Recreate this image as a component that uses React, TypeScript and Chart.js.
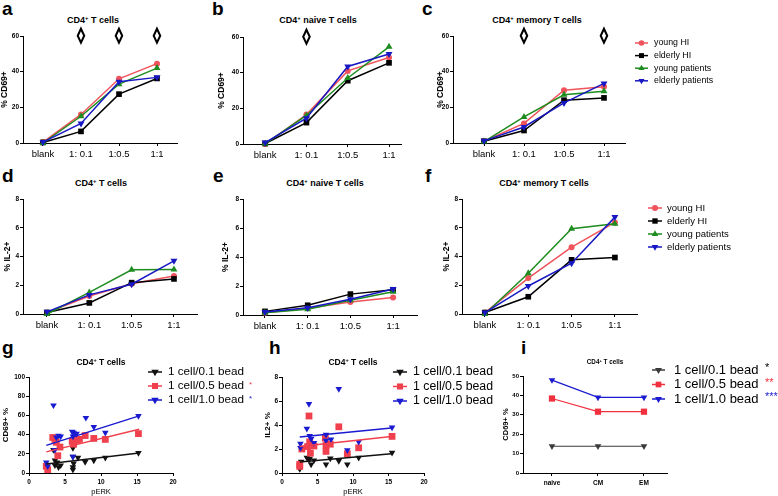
import React, { useEffect, useRef } from 'react';
import { Chart, registerables } from 'chart.js';

Chart.register(...registerables);

const FONT = '"Liberation Sans", Arial, Helvetica, sans-serif';
Chart.defaults.font.family = FONT;
Chart.defaults.color = '#000';

// ---------------- data ----------------
const groupLabels = ['young HI', 'elderly HI', 'young patients', 'elderly patients'];
const doseLabels = ['blank', '1: 0.1', '1:0.5', '1:1'];

// a: % CD69+ CD4+ T cells
const aYoungHI = [0.5, 16, 36, 44.5];
const aElderlyHI = [0.3, 6.5, 27.4, 36.2];
const aYoungPatients = [0, 15, 33, 42];
const aElderlyPatients = [0.5, 11, 34.3, 36.8];
const aDiamonds = [1, 2, 3];

// b: % CD69+ CD4+ naive T cells
const bYoungHI = [0, 16.5, 41, 48.5];
const bElderlyHI = [0.3, 12, 35.5, 45.5];
const bYoungPatients = [0.2, 16, 37, 54.5];
const bElderlyPatients = [0.8, 14.5, 43.5, 50.5];
const bDiamonds = [1];

// c: % CD69+ CD4+ memory T cells
const cYoungHI = [1, 11, 29.6, 31.5];
const cElderlyHI = [1, 7, 24, 25.3];
const cYoungPatients = [0.8, 14.6, 27, 29];
const cElderlyPatients = [1.2, 9, 22.5, 33.4];
const cDiamonds = [1, 3];

// d: % IL-2+ CD4+ T cells
const dYoungHI = [0.1, 1.25, 2.1, 2.65];
const dElderlyHI = [0.1, 0.77, 2.18, 2.44];
const dYoungPatients = [0, 1.5, 3.07, 3.1];
const dElderlyPatients = [0.15, 1.33, 2.07, 3.7];

// e: % IL-2+ CD4+ naive T cells
const eYoungHI = [0.15, 0.46, 0.9, 1.2];
const eElderlyHI = [0.25, 0.67, 1.44, 1.74];
const eYoungPatients = [0.15, 0.4, 1.02, 1.6];
const eElderlyPatients = [0.2, 0.5, 1.09, 1.79];

// f: % IL-2+ CD4+ memory T cells
const fYoungHI = [0.1, 2.5, 4.65, 6.37];
const fElderlyHI = [0.1, 1.2, 3.77, 3.93];
const fYoungPatients = [0, 2.84, 5.93, 6.28];
const fElderlyPatients = [0.1, 1.95, 3.53, 6.74];

// g: CD69+ % vs pERK
const beadLabels = ['1 cell/0.1 bead', '1 cell/0.5 bead', '1 cell/1.0 bead'];
const gStars = ['', '*', '*'];
const g01X = [2.6, 3.4, 3.6, 3.6, 3.9, 4.1, 4.4, 6.1, 6.1, 6.1, 6.1, 6.2, 6.8, 7.8, 9.0, 10.6, 15.2];
const g01Y = [3, 24, 13, 8, 11, 6, 8, 26, 17, 6, 3.5, 10, 16, 11.5, 13, 16, 21];
const g05X = [2.4, 2.6, 3.3, 3.6, 3.8, 4.0, 4.3, 6.0, 6.2, 6.3, 6.6, 7.0, 7.8, 9.0, 10.6, 15.2];
const g05Y = [7, 3.5, 37, 35, 32, 18, 27, 33, 30, 36, 34, 35, 39, 36, 35, 41];
const g10X = [2.4, 2.6, 3.4, 3.6, 3.8, 4.1, 4.4, 6.0, 6.1, 6.1, 6.2, 6.6, 7.9, 9.0, 10.6, 15.2];
const g10Y = [11, 7, 70.5, 24, 37, 39, 38, 43, 38, 17, 42, 41, 57.5, 48, 42, 59.5];
const gTrendX = [2.4, 15.3];
const gTrend01Y = [9.3, 20.8];
const gTrend05Y = [22, 45.5];
const gTrend10Y = [28.8, 59.5];

// h: IL2+ % vs pERK
const h01X = [2.5, 2.7, 3.5, 3.8, 3.9, 4.1, 4.5, 6.2, 6.8, 8.0, 9.2, 10.8, 15.5];
const h01Y = [0.33, 0.95, 1.28, 1.1, 1.2, 0.72, 1.06, 0.72, 1.22, 1.0, 0.72, 1.28, 1.7];
const h05X = [2.5, 2.5, 2.8, 3.6, 3.8, 3.9, 4.0, 4.5, 6.1, 6.2, 6.2, 6.8, 8.0, 9.2, 10.8, 15.5];
const h05Y = [0.72, 0.55, 2.0, 2.2, 4.75, 2.6, 1.65, 2.25, 2.9, 2.3, 1.8, 2.4, 3.85, 1.6, 2.1, 3.05];
const h10X = [2.6, 2.6, 3.5, 3.8, 3.9, 4.1, 4.5, 6.2, 6.2, 6.9, 8.0, 9.2, 10.8, 15.5];
const h10Y = [2.45, 2.1, 3.7, 5.75, 3.1, 2.85, 2.5, 3.2, 2.7, 2.8, 7.0, 1.9, 2.6, 3.8];
const hTrendX = [2.5, 15.4];
const hTrend01Y = [0.92, 1.6];
const hTrend05Y = [2.2, 3.05];
const hTrend10Y = [3.0, 3.75];

// i: CD69+ % by subset
const subsetLabels = ['naive', 'CM', 'EM'];
const iStars = ['*', '**', '***'];
const i01 = [13.8, 13.8, 13.8];
const i05 = [38.4, 31.6, 31.6];
const i10 = [47.9, 39, 39];

// ---------------- styles ----------------
type Marker = 'circle' | 'rect' | 'triangle' | 'triangleDown';
const RED = '#f0535b';
const GREEN = '#1e8c1e';
const BLUE = '#1717c4';
const groupColors = [RED, '#000000', GREEN, BLUE];
const groupMarkers: Marker[] = ['circle', 'rect', 'triangle', 'triangleDown'];
const beadColors = ['#111111', '#f0404e', '#1a1ad0'];
const beadColorsI = ['#3a3a3a', '#f0303e', '#1a1ad0'];
const beadMarkers: Marker[] = ['triangleDown', 'rect', 'triangleDown'];

type Frame = { cl: number; ct: number; cr: number; cb: number; ax: number; at: number; ar: number; ab: number };
type Lay = { left: number; top: number; width: number; height: number; yw: number; pt: number; pr: number; xh: number };

function lay(f: Frame): Lay {
  return {
    left: f.cl, top: f.ct, width: f.cr - f.cl, height: f.cb - f.ct,
    yw: f.ax - f.cl, pt: f.at - f.ct, pr: f.cr - f.ar, xh: f.cb - f.ab,
  };
}

function drawMarker(ctx: CanvasRenderingContext2D, m: Marker, x: number, y: number, r: number, color: string) {
  ctx.fillStyle = color;
  ctx.beginPath();
  if (m === 'circle') {
    ctx.arc(x, y, r, 0, Math.PI * 2);
  } else if (m === 'rect') {
    const s = r * Math.SQRT1_2;
    ctx.rect(x - s, y - s, 2 * s, 2 * s);
  } else {
    const sgn = m === 'triangle' ? -1 : 1;
    for (let k = 0; k < 3; k++) {
      const a = (k * 2 * Math.PI) / 3;
      const px = x + Math.sin(a) * r;
      const py = y + sgn * Math.cos(a) * r;
      if (k === 0) ctx.moveTo(px, py); else ctx.lineTo(px, py);
    }
    ctx.closePath();
  }
  ctx.fill();
}

function ptStyle(m: Marker, s: number) {
  const r = (m === 'circle' ? 3 : 4) * s;
  return {
    pointStyle: m === 'circle' ? 'circle' : m === 'rect' ? 'rect' : 'triangle',
    pointRotation: m === 'triangleDown' ? 180 : 0,
    pointRadius: r,
    pointHoverRadius: r,
  };
}

const axisBorder = { display: true, color: '#000', width: 1 };
const tickGrid = { display: true, drawOnChartArea: false, drawTicks: true, tickLength: 3, color: '#000', lineWidth: 1 };

function catScale(labels: string[], min: number, max: number, size: number, bold: boolean, xh: number) {
  return {
    type: 'linear', min, max,
    afterBuildTicks: (s: any) => { s.ticks = labels.map((_, i) => ({ value: i })); },
    afterFit: (s: any) => { s.height = xh; },
    ticks: {
      callback: (v: any) => labels[Math.round(Number(v))] ?? '',
      font: { size, weight: bold ? 'bold' : 'normal' }, color: '#000', padding: 3,
      autoSkip: false, maxRotation: 0, minRotation: 0,
    },
    grid: tickGrid, border: axisBorder,
  };
}

function numScale(axis: 'x' | 'y', min: number, max: number, step: number, size: number, fit: number,
  title?: string, titleSize = 8, titleBold = true) {
  return {
    type: 'linear', min, max,
    ticks: { stepSize: step, font: { size, weight: 'bold' }, padding: axis === 'y' ? 1 : 2, color: '#000', maxRotation: 0, autoSkip: false },
    grid: tickGrid, border: axisBorder,
    title: title
      ? { display: true, text: title, font: { size: titleSize, weight: titleBold ? 'bold' : 'normal' }, padding: 0, color: '#000' }
      : { display: false },
    afterFit: (s: any) => { if (axis === 'y') s.width = fit; else s.height = fit; },
  };
}

function baseOptions(L: Lay, scales: any) {
  return {
    responsive: false, maintainAspectRatio: false, animation: false, events: [],
    layout: { padding: { left: 0, top: L.pt, right: L.pr, bottom: 0 } },
    plugins: { legend: { display: false }, tooltip: { enabled: false }, title: { display: false } },
    scales,
  };
}

type LegendCfg = {
  x: number; y: number; dy: number; len: number; gap: number; size: number; r: number;
  labels: string[]; colors: string[]; markers: Marker[];
  stars?: string[]; starColors?: string[]; starX?: number; starSize?: number; starDy?: number;
};

function legendPlugin(L: Lay, cfg: LegendCfg) {
  return {
    id: 'prismLegend',
    afterDraw(chart: any) {
      const ctx: CanvasRenderingContext2D = chart.ctx;
      ctx.save();
      cfg.labels.forEach((label, k) => {
        const x = cfg.x - L.left;
        const y = cfg.y - L.top + k * cfg.dy;
        ctx.strokeStyle = cfg.colors[k];
        ctx.lineWidth = 1.5;
        ctx.beginPath();
        ctx.moveTo(x, y);
        ctx.lineTo(x + cfg.len, y);
        ctx.stroke();
        drawMarker(ctx, cfg.markers[k], x + cfg.len / 2, y, cfg.r * (cfg.markers[k] === 'circle' ? 0.8 : 1), cfg.colors[k]);
        ctx.font = `${cfg.size}px ${FONT}`;
        ctx.fillStyle = '#000';
        ctx.textAlign = 'left';
        ctx.textBaseline = 'middle';
        ctx.fillText(label, x + cfg.len + cfg.gap, y);
        if (cfg.stars && cfg.stars[k]) {
          ctx.font = `${cfg.starSize ?? cfg.size}px ${FONT}`;
          ctx.fillStyle = cfg.starColors ? cfg.starColors[k] : '#000';
          ctx.fillText(cfg.stars[k], (cfg.starX ?? 0) - L.left, y - (cfg.starDy ?? 0));
        }
      });
      ctx.restore();
    },
  };
}

function diamondPlugin(indices: number[]) {
  return {
    id: 'diamonds',
    afterDraw(chart: any) {
      const ctx: CanvasRenderingContext2D = chart.ctx;
      const xs = chart.scales.x;
      ctx.save();
      ctx.fillStyle = '#000';
      ctx.strokeStyle = '#000';
      ctx.lineWidth = 1.3;
      ctx.lineJoin = 'miter';
      ctx.font = 'bold 15px "DejaVu Sans", sans-serif';
      ctx.textAlign = 'center';
      ctx.textBaseline = 'middle';
      indices.forEach((i) => {
        const px = xs.getPixelForValue(i);
        const py = chart.chartArea.top;
        ctx.fillText('\u25CA', px, py);
        ctx.strokeText('\u25CA', px, py);
      });
      ctx.restore();
    },
  };
}

function doseConfig(L: Lay, series: number[][], xmin: number, xmax: number, ymax: number, ystep: number,
  ytitle: string, plugins: any[]) {
  return {
    type: 'line',
    data: {
      datasets: series.map((vals, k) => ({
        label: groupLabels[k],
        data: vals.map((v, i) => ({ x: i, y: v })),
        borderColor: groupColors[k],
        backgroundColor: groupColors[k],
        pointBackgroundColor: groupColors[k],
        pointBorderColor: groupColors[k],
        pointBorderWidth: 0,
        borderWidth: 1.5,
        tension: 0,
        clip: false,
        order: -k,
        ...ptStyle(groupMarkers[k], 1),
      })),
    },
    options: baseOptions(L, {
      x: catScale(doseLabels, xmin, xmax, 9.5, false, L.xh),
      y: numScale('y', 0, ymax, ystep, 6.5, L.yw, ytitle, 8.5),
    }),
    plugins,
  };
}

function scatterConfig(L: Lay, xs: number[][], ys: number[][], trendX: number[], trends: number[][],
  ymax: number, ystep: number, ytitle: string, legend: LegendCfg) {
  const pts = xs.map((xArr, k) => ({
    type: 'scatter',
    label: beadLabels[k],
    data: xArr.map((x, i) => ({ x, y: ys[k][i] })),
    backgroundColor: beadColors[k],
    borderColor: beadColors[k],
    pointBackgroundColor: beadColors[k],
    pointBorderWidth: 0,
    clip: false,
    order: 5 - k,
    ...ptStyle(beadMarkers[k], beadMarkers[k] === 'rect' ? 1.2 : 0.95),
  }));
  const lines = trends.map((tY, k) => ({
    type: 'scatter',
    label: beadLabels[k] + ' fit',
    data: trendX.map((x, i) => ({ x, y: tY[i] })),
    showLine: true,
    borderColor: beadColors[k],
    backgroundColor: beadColors[k],
    borderWidth: 1.5,
    pointRadius: 0,
    clip: false,
    order: -k,
  }));
  return {
    type: 'scatter',
    data: { datasets: [...pts, ...lines] },
    options: baseOptions(L, {
      x: numScale('x', 0, 20, 5, 6.5, L.xh, 'pERK', 7.5, false),
      y: numScale('y', 0, ymax, ystep, 6.5, L.yw, ytitle, 8),
    }),
    plugins: [legendPlugin(L, legend)],
  };
}

// ---------------- frames (layout) ----------------
const frA: Frame = { cl: 0, ct: 26, cr: 182, cb: 165, ax: 23, at: 36, ar: 177, ab: 143 };
const frB: Frame = { cl: 217, ct: 26, cr: 407, cb: 165, ax: 243, at: 37, ar: 401, ab: 144 };
const frC: Frame = { cl: 436, ct: 26, cr: 740, cb: 165, ax: 453, at: 36, ar: 625, ab: 143 };
const frD: Frame = { cl: 3, ct: 190, cr: 202, cb: 334, ax: 23, at: 199, ar: 197, ab: 314 };
const frE: Frame = { cl: 221, ct: 190, cr: 422, cb: 335, ax: 243, at: 199, ar: 417, ab: 315 };
const frF: Frame = { cl: 442, ct: 190, cr: 745, cb: 334, ax: 462, at: 199, ar: 637, ab: 314 };
const frG: Frame = { cl: 1, ct: 362, cr: 258, cb: 496, ax: 29, at: 377, ar: 173, ab: 473 };
const frH: Frame = { cl: 263, ct: 362, cr: 499, cb: 496, ax: 282, at: 377, ar: 424, ab: 473 };
const frI: Frame = { cl: 501, ct: 362, cr: 778, cb: 496, ax: 523, at: 376, ar: 667, ab: 473 };

const builders: { frame: Frame; build: (L: Lay) => any }[] = [
  { frame: frA, build: (L) => doseConfig(L, [aYoungHI, aElderlyHI, aYoungPatients, aElderlyPatients], -0.526, 3.526, 60, 20, '% CD69+', [diamondPlugin(aDiamonds)]) },
  { frame: frB, build: (L) => doseConfig(L, [bYoungHI, bElderlyHI, bYoungPatients, bElderlyPatients], -0.537, 3.29, 60, 20, '% CD69+', [diamondPlugin(bDiamonds)]) },
  {
    frame: frC, build: (L) => doseConfig(L, [cYoungHI, cElderlyHI, cYoungPatients, cElderlyPatients], -0.775, 3.525, 60, 20, '% CD69+', [
      diamondPlugin(cDiamonds),
      legendPlugin(L, { x: 635, y: 43, dy: 12.6, len: 13, gap: 6, size: 8.8, r: 3.5, labels: groupLabels, colors: groupColors, markers: groupMarkers }),
    ]),
  },
  { frame: frD, build: (L) => doseConfig(L, [dYoungHI, dElderlyHI, dYoungPatients, dElderlyPatients], -0.567, 3.544, 8, 2, '% IL-2+', []) },
  { frame: frE, build: (L) => doseConfig(L, [eYoungHI, eElderlyHI, eYoungPatients, eElderlyPatients], -0.515, 3.56, 8, 2, '% IL-2+', []) },
  {
    frame: frF, build: (L) => doseConfig(L, [fYoungHI, fElderlyHI, fYoungPatients, fElderlyPatients], -0.53, 3.51, 8, 2, '% IL-2+', [
      legendPlugin(L, { x: 648, y: 208, dy: 13, len: 14, gap: 5, size: 9.5, r: 3.8, labels: groupLabels, colors: groupColors, markers: groupMarkers }),
    ]),
  },
  {
    frame: frG, build: (L) => scatterConfig(L, [g01X, g05X, g10X], [g01Y, g05Y, g10Y], gTrendX, [gTrend01Y, gTrend05Y, gTrend10Y], 100, 20, 'CD69+ %', {
      x: 148, y: 372, dy: 14, len: 14, gap: 6, size: 11.7, r: 4.3, labels: beadLabels, colors: beadColors, markers: beadMarkers,
      stars: gStars, starColors: ['#000', '#f0404e', '#1a1ad0'], starX: 249, starSize: 8, starDy: 1,
    }),
  },
  {
    frame: frH, build: (L) => scatterConfig(L, [h01X, h05X, h10X], [h01Y, h05Y, h10Y], hTrendX, [hTrend01Y, hTrend05Y, hTrend10Y], 8, 2, 'IL2+ %', {
      x: 393, y: 372, dy: 14.5, len: 14, gap: 6, size: 12.3, r: 4.3, labels: beadLabels, colors: beadColors, markers: beadMarkers,
    }),
  },
  {
    frame: frI, build: (L) => ({
      type: 'line',
      data: {
        datasets: [i01, i05, i10].map((vals, k) => ({
          label: beadLabels[k],
          data: vals.map((v, i) => ({ x: i, y: v })),
          borderColor: beadColorsI[k],
          backgroundColor: beadColorsI[k],
          pointBackgroundColor: beadColorsI[k],
          pointBorderWidth: 0,
          borderWidth: 1.2,
          tension: 0,
          clip: false,
          ...ptStyle(beadMarkers[k], beadMarkers[k] === 'rect' ? 1.1 : 0.95),
        })),
      },
      options: baseOptions(L, {
        x: catScale(subsetLabels, -0.63, 2.5, 6.5, true, L.xh),
        y: numScale('y', 0, 50, 10, 6, L.yw, 'CD69+ %', 7.5),
      }),
      plugins: [legendPlugin(L, {
        x: 652, y: 370, dy: 14.5, len: 13, gap: 9, size: 13, r: 4, labels: beadLabels, colors: beadColorsI, markers: beadMarkers,
        stars: iStars, starColors: ['#000', '#f0303e', '#1a1ad0'], starX: 765, starSize: 11, starDy: 2,
      })],
    }),
  },
];

const panelLetters = [
  { t: 'a', x: 2, y: -1 }, { t: 'b', x: 212, y: -1 }, { t: 'c', x: 422, y: -1 },
  { t: 'd', x: 2, y: 166 }, { t: 'e', x: 213, y: 166 }, { t: 'f', x: 425, y: 166 },
  { t: 'g', x: 2, y: 338 }, { t: 'h', x: 269, y: 338 }, { t: 'i', x: 521, y: 338 },
];

const panelTitles = [
  { pre: 'CD4', post: ' T cells', x: 93, y: 20, s: 9 },
  { pre: 'CD4', post: ' naive T cells', x: 318, y: 20, s: 9 },
  { pre: 'CD4', post: ' memory T cells', x: 537, y: 20, s: 9 },
  { pre: 'CD4', post: ' T cells', x: 101, y: 183, s: 9 },
  { pre: 'CD4', post: ' naive T cells', x: 325, y: 183, s: 9 },
  { pre: 'CD4', post: ' memory T cells', x: 544, y: 183, s: 9 },
  { pre: 'CD4', post: ' T cells', x: 101, y: 362, s: 8.5 },
  { pre: 'CD4', post: ' T cells', x: 353, y: 362, s: 8.5 },
  { pre: 'CD4', post: ' T cells', x: 605, y: 362, s: 6.3 },
];

function ChartBox({ frame, build }: { frame: Frame; build: (L: Lay) => any }) {
  const ref = useRef<HTMLCanvasElement>(null);
  const L = lay(frame);
  useEffect(() => {
    const chart = new Chart(ref.current as HTMLCanvasElement, build(L));
    return () => chart.destroy();
  }, []);
  return (
    <canvas
      ref={ref}
      width={L.width}
      height={L.height}
      style={{ position: 'absolute', left: L.left, top: L.top, width: L.width, height: L.height }}
    />
  );
}

export default function App() {
  return (
    <div style={{ position: 'absolute', left: 0, top: 0, width: 778, height: 496, background: '#fff', overflow: 'hidden', fontFamily: FONT }}>
      {builders.map((b, i) => (
        <ChartBox key={i} frame={b.frame} build={b.build} />
      ))}
      {panelLetters.map((p) => (
        <div key={p.t} style={{ position: 'absolute', left: p.x, top: p.y, fontSize: 19, lineHeight: '19px', fontWeight: 'bold', color: '#000' }}>
          {p.t}
        </div>
      ))}
      {panelTitles.map((p, i) => (
        <div key={i} style={{ position: 'absolute', left: p.x, top: p.y, transform: 'translate(-50%, -50%)', fontSize: p.s, lineHeight: 1, fontWeight: 'bold', whiteSpace: 'nowrap', color: '#000' }}>
          {p.pre}
          <span style={{ fontSize: '0.65em', position: 'relative', top: '-0.55em' }}>+</span>
          {p.post}
        </div>
      ))}
    </div>
  );
}
